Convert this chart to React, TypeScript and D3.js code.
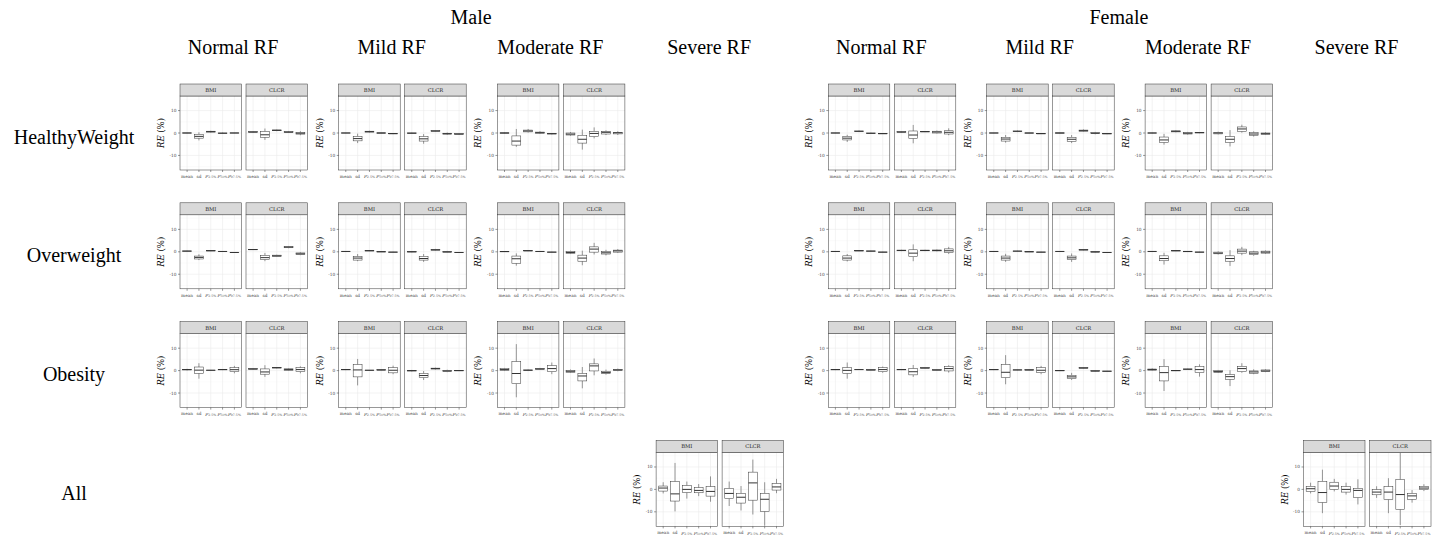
import React from "react";
import * as d3 from "d3";

// Each box: [lower whisker, Q1, median, Q3, upper whisker] of RE (%)
type Box = [number, number, number, number, number];

const sexes = ["Male", "Female"];
const rfLevels = ["Normal RF", "Mild RF", "Moderate RF", "Severe RF"];
const weightGroups = ["HealthyWeight", "Overweight", "Obesity", "All"];
const covariates = ["BMI", "CLCR"];
const statistics = ["mean", "sd", "P2.5", "P50", "P97.5"];
const yTicks = [-10, 0, 10];
const yMinor = [-15, -5, 5, 15];
const yDomain: [number, number] = [-16.5, 16.5];

// ---- Male ----
const mHwNormalBMI: Box[] = [[-0.1, 0, 0, 0.05, 0.15], [-3.3, -2.3, -1.5, -0.6, 0.3], [0.2, 0.4, 0.6, 0.8, 1.0], [-0.4, -0.2, -0.1, 0, 0.2], [-0.1, 0, 0, 0.05, 0.1]];
const mHwNormalCLCR: Box[] = [[0.1, 0.3, 0.45, 0.6, 0.8], [-3.1, -1.9, -0.8, 0.7, 2.0], [0.8, 1.0, 1.2, 1.35, 1.5], [0, 0.2, 0.4, 0.6, 0.9], [-1.0, -0.5, -0.1, 0.2, 0.8]];
const mHwMildBMI: Box[] = [[-0.1, 0, 0, 0.05, 0.1], [-4.5, -3.5, -2.5, -1.5, -0.3], [0.2, 0.4, 0.6, 0.8, 1.0], [-0.3, -0.15, 0, 0.1, 0.2], [-0.5, -0.35, -0.3, -0.2, -0.1]];
const mHwMildCLCR: Box[] = [[-0.4, -0.2, -0.1, 0.05, 0.2], [-4.8, -3.6, -2.6, -1.6, -0.5], [0.5, 0.7, 0.9, 1.1, 1.3], [-0.8, -0.5, -0.3, -0.1, 0.2], [-0.8, -0.6, -0.45, -0.3, -0.1]];
const mHwModerateBMI: Box[] = [[-0.3, -0.1, 0, 0.1, 0.3], [-6.2, -5.4, -3.6, -1.3, 1.8], [0.2, 0.5, 0.9, 1.3, 1.8], [-0.4, -0.1, 0.15, 0.4, 0.8], [-0.6, -0.45, -0.3, -0.15, 0]];
const mHwModerateCLCR: Box[] = [[-1.2, -0.9, -0.5, 0, 0.4], [-7.4, -4.5, -2.8, -1.0, 1.5], [-2.4, -1.6, -0.2, 0.75, 2.5], [-0.9, -0.45, 0.3, 0.75, 1.2], [-0.9, -0.4, 0.1, 0.3, 0.8]];

const mOwNormalBMI: Box[] = [[0, 0.15, 0.3, 0.4, 0.5], [-3.7, -3.2, -2.5, -1.9, -1.1], [0.3, 0.4, 0.45, 0.5, 0.6], [0, 0.1, 0.15, 0.2, 0.3], [-0.5, -0.4, -0.3, -0.2, -0.1]];
const mOwNormalCLCR: Box[] = [[0.8, 0.9, 1.0, 1.1, 1.2], [-4.2, -3.4, -2.6, -1.6, -0.5], [-2.1, -2.0, -1.8, -1.5, -1.3], [1.6, 1.8, 2.1, 2.4, 2.6], [-1.5, -1.3, -0.9, -0.5, -0.2]];
const mOwMildBMI: Box[] = [[-0.1, 0.05, 0.15, 0.25, 0.35], [-4.2, -3.7, -2.8, -2.1, -1.0], [0.3, 0.4, 0.45, 0.5, 0.6], [-0.1, -0.05, 0, 0.05, 0.1], [-0.3, -0.2, -0.15, -0.1, 0]];
const mOwMildCLCR: Box[] = [[-0.2, -0.1, 0, 0.05, 0.2], [-4.5, -3.7, -3.0, -2.1, -1.0], [0.5, 0.7, 0.9, 1.1, 1.3], [-0.5, -0.3, 0, 0.2, 0.4], [-0.5, -0.4, -0.3, -0.2, -0.1]];
const mOwModerateBMI: Box[] = [[-0.1, 0, 0.1, 0.2, 0.3], [-6.2, -5.1, -3.1, -1.9, -0.7], [0.3, 0.4, 0.45, 0.5, 0.6], [0, 0.1, 0.15, 0.2, 0.3], [-0.3, -0.2, -0.15, -0.1, 0]];
const mOwModerateCLCR: Box[] = [[-1.0, -0.7, -0.3, 0.2, 0.5], [-6.0, -4.2, -2.8, -1.5, 0.5], [-1.2, -0.15, 1.2, 2.2, 4.0], [-1.6, -1.0, -0.45, 0.15, 0.9], [-0.5, -0.15, 0.4, 0.75, 1.2]];

const mObNormalBMI: Box[] = [[0.1, 0.3, 0.45, 0.6, 0.8], [-3.6, -1.2, 0.2, 1.6, 3.3], [0, 0.1, 0.15, 0.2, 0.3], [0.2, 0.35, 0.45, 0.6, 0.7], [-1.2, -0.45, 0.4, 1.3, 2.1]];
const mObNormalCLCR: Box[] = [[0.4, 0.6, 0.75, 0.9, 1.1], [-2.8, -1.6, -0.6, 0.75, 2.4], [1.0, 1.15, 1.3, 1.45, 1.6], [-0.1, 0.1, 0.45, 0.8, 1.0], [-1.2, -0.45, 0.45, 1.3, 1.9]];
const mObMildBMI: Box[] = [[0.2, 0.35, 0.45, 0.6, 0.7], [-6.6, -2.8, 0.3, 2.7, 5.2], [0.05, 0.1, 0.15, 0.2, 0.25], [0.1, 0.2, 0.3, 0.4, 0.5], [-1.6, -1.0, 0.15, 1.3, 2.2]];
const mObMildCLCR: Box[] = [[-0.4, -0.2, 0, 0.1, 0.3], [-4.2, -3.1, -2.2, -1.3, -0.2], [0.5, 0.7, 0.9, 1.1, 1.3], [-0.7, -0.45, -0.15, 0.15, 0.4], [-0.2, -0.1, 0, 0.05, 0.15]];
const mObModerateBMI: Box[] = [[-0.2, 0.1, 0.45, 0.9, 1.2], [-11.9, -5.8, -1.3, 4.0, 11.8], [-0.2, 0, 0.15, 0.3, 0.5], [0.3, 0.5, 0.75, 0.95, 1.2], [-1.6, -0.45, 0.9, 2.2, 3.6]];
const mObModerateCLCR: Box[] = [[-1.0, -0.75, -0.3, 0.15, 0.5], [-7.9, -4.6, -2.4, -1.3, 1.6], [-2.1, -0.15, 2.1, 3.0, 5.4], [-1.8, -1.3, -0.9, -0.3, 0.45], [-0.3, 0, 0.3, 0.6, 0.9]];

const mAllSevereBMI: Box[] = [[-1.8, -0.75, 0.6, 1.5, 3.2], [-9.8, -5.2, -2.0, 3.5, 11.8], [-4.1, -1.4, 0, 1.7, 3.5], [-3.0, -1.5, -0.45, 0.75, 2.4], [-5.5, -3.0, -0.9, 1.2, 5.8]];
const mAllSevereCLCR: Box[] = [[-7.4, -4.1, -1.8, 0.45, 3.5], [-9.4, -6.1, -3.5, -1.8, 1.5], [-11.2, -4.8, 2.9, 7.7, 13.3], [-16.2, -9.8, -4.4, -1.8, 3.2], [-1.7, -0.3, 1.1, 2.6, 4.7]];

// ---- Female ----
const fHwNormalBMI: Box[] = [[-0.1, 0, 0, 0.05, 0.1], [-4.0, -3.1, -2.3, -1.5, -0.8], [0.4, 0.6, 0.75, 0.9, 1.1], [-0.4, -0.25, -0.15, 0, 0.15], [-0.45, -0.35, -0.3, -0.2, -0.1]];
const fHwNormalCLCR: Box[] = [[0.1, 0.3, 0.45, 0.6, 0.8], [-4.6, -2.4, -0.9, 0.9, 3.6], [0.4, 0.5, 0.6, 0.7, 0.8], [-0.2, 0, 0.45, 0.8, 1.1], [-1.0, -0.45, 0.3, 1.0, 2.1]];
const fHwMildBMI: Box[] = [[-0.1, 0, 0, 0.05, 0.1], [-4.3, -3.6, -2.7, -1.9, -0.9], [0.4, 0.6, 0.75, 0.9, 1.1], [-0.2, -0.1, 0, 0.05, 0.15], [-0.45, -0.35, -0.3, -0.2, -0.1]];
const fHwMildCLCR: Box[] = [[-0.3, -0.1, 0, 0.1, 0.2], [-4.5, -3.7, -2.8, -1.9, -0.9], [0.6, 0.8, 1.05, 1.3, 1.6], [-0.6, -0.3, -0.1, 0.15, 0.5], [-0.5, -0.4, -0.3, -0.2, -0.1]];
const fHwModerateBMI: Box[] = [[-0.2, -0.05, 0, 0.05, 0.2], [-5.2, -4.2, -3.1, -1.8, -0.4], [0.3, 0.5, 0.75, 0.95, 1.2], [-0.7, -0.45, -0.1, 0.2, 0.5], [-0.1, 0.05, 0.15, 0.25, 0.35]];
const fHwModerateCLCR: Box[] = [[-0.6, -0.4, 0, 0.3, 0.6], [-6.0, -4.2, -2.8, -1.6, 1.3], [0.15, 0.75, 1.8, 2.7, 3.7], [-1.6, -1.0, -0.45, 0.15, 0.75], [-0.9, -0.6, -0.3, 0, 0.3]];

const fOwNormalBMI: Box[] = [[-0.1, 0.05, 0.15, 0.25, 0.35], [-4.3, -3.7, -2.8, -1.8, -1.0], [0.3, 0.4, 0.45, 0.5, 0.6], [0.1, 0.2, 0.3, 0.4, 0.5], [-0.3, -0.2, -0.15, -0.1, 0]];
const fOwNormalCLCR: Box[] = [[0.3, 0.45, 0.6, 0.75, 0.9], [-4.2, -2.2, -0.6, 0.9, 3.3], [0.3, 0.45, 0.6, 0.75, 0.9], [0.2, 0.4, 0.6, 0.8, 1.0], [-1.0, -0.3, 0.45, 1.3, 2.2]];
const fOwMildBMI: Box[] = [[-0.1, 0.05, 0.15, 0.25, 0.35], [-4.5, -3.7, -2.8, -1.9, -0.9], [0.15, 0.25, 0.3, 0.35, 0.45], [-0.1, -0.05, 0, 0.05, 0.1], [-0.3, -0.2, -0.15, -0.1, 0]];
const fOwMildCLCR: Box[] = [[-0.1, 0.05, 0.15, 0.25, 0.35], [-4.5, -3.4, -2.7, -1.9, -0.75], [0.6, 0.75, 0.9, 1.05, 1.2], [-0.4, -0.2, 0, 0.15, 0.3], [-0.5, -0.4, -0.3, -0.2, -0.1]];
const fOwModerateBMI: Box[] = [[-0.1, 0.05, 0.15, 0.25, 0.35], [-5.7, -4.0, -3.0, -1.8, -0.45], [0.3, 0.4, 0.45, 0.5, 0.6], [-0.1, 0, 0.15, 0.25, 0.35], [-0.3, -0.2, -0.15, -0.1, 0]];
const fOwModerateCLCR: Box[] = [[-1.2, -0.9, -0.6, -0.15, 0.2], [-6.3, -4.2, -3.0, -1.8, 0.75], [-1.5, -0.6, 0.3, 1.2, 2.2], [-1.8, -1.3, -0.6, 0, 0.45], [-0.9, -0.6, -0.15, 0.3, 0.6]];

const fObNormalBMI: Box[] = [[0.2, 0.35, 0.45, 0.55, 0.7], [-3.6, -1.2, 0.1, 1.3, 3.6], [0.3, 0.4, 0.45, 0.5, 0.6], [0.1, 0.2, 0.3, 0.4, 0.5], [-1.0, -0.45, 0.45, 1.3, 1.8]];
const fObNormalCLCR: Box[] = [[0.2, 0.35, 0.45, 0.55, 0.7], [-2.8, -1.9, -0.5, 0.9, 2.5], [0.9, 1.05, 1.2, 1.35, 1.5], [0, 0.15, 0.3, 0.45, 0.6], [-0.9, -0.15, 0.9, 1.8, 2.4]];
const fObMildBMI: Box[] = [[0.2, 0.35, 0.45, 0.55, 0.7], [-6.1, -3.1, -0.75, 2.7, 6.9], [0.15, 0.25, 0.3, 0.35, 0.45], [0.1, 0.2, 0.3, 0.4, 0.5], [-1.6, -0.9, 0.15, 1.3, 2.1]];
const fObMildCLCR: Box[] = [[-0.2, -0.1, 0, 0.05, 0.15], [-4.2, -3.6, -2.8, -2.1, -1.0], [0.9, 1.05, 1.2, 1.35, 1.5], [-0.5, -0.3, -0.15, 0, 0.2], [-0.5, -0.4, -0.3, -0.2, -0.1]];
const fObModerateBMI: Box[] = [[0, 0.2, 0.45, 0.7, 1.0], [-9.1, -4.6, -0.9, 1.9, 5.1], [-0.2, -0.1, 0, 0.1, 0.2], [0.3, 0.45, 0.6, 0.75, 0.9], [-2.7, -0.9, 0.45, 1.8, 2.8]];
const fObModerateCLCR: Box[] = [[-1.0, -0.75, -0.45, 0, 0.3], [-6.9, -3.9, -2.7, -1.8, 0.15], [-1.0, -0.45, 0.9, 1.9, 3.3], [-1.6, -1.2, -0.6, -0.15, 0.6], [-0.7, -0.45, -0.15, 0.3, 0.6]];

const fAllSevereBMI: Box[] = [[-1.8, -0.9, 0.3, 1.4, 3.0], [-10.6, -5.8, -1.4, 3.6, 8.8], [-0.9, 0, 1.5, 3.2, 4.7], [-2.3, -1.2, 0, 1.2, 3.0], [-6.7, -3.6, -0.45, 0.45, 4.5]];
const fAllSevereCLCR: Box[] = [[-3.8, -2.4, -1.2, -0.15, 1.4], [-10.6, -4.5, -1.2, 1.2, 5.0], [-15.9, -8.9, -2.3, 4.4, 16.3], [-5.9, -4.4, -2.9, -1.8, -0.3], [-0.75, -0.15, 0.6, 1.4, 2.3]];

type Panel = { sex: string; rf: string; group: string; BMI: Box[]; CLCR: Box[] };

const panels: Panel[] = [
  { sex: "Male", rf: "Normal RF", group: "HealthyWeight", BMI: mHwNormalBMI, CLCR: mHwNormalCLCR },
  { sex: "Male", rf: "Mild RF", group: "HealthyWeight", BMI: mHwMildBMI, CLCR: mHwMildCLCR },
  { sex: "Male", rf: "Moderate RF", group: "HealthyWeight", BMI: mHwModerateBMI, CLCR: mHwModerateCLCR },
  { sex: "Male", rf: "Normal RF", group: "Overweight", BMI: mOwNormalBMI, CLCR: mOwNormalCLCR },
  { sex: "Male", rf: "Mild RF", group: "Overweight", BMI: mOwMildBMI, CLCR: mOwMildCLCR },
  { sex: "Male", rf: "Moderate RF", group: "Overweight", BMI: mOwModerateBMI, CLCR: mOwModerateCLCR },
  { sex: "Male", rf: "Normal RF", group: "Obesity", BMI: mObNormalBMI, CLCR: mObNormalCLCR },
  { sex: "Male", rf: "Mild RF", group: "Obesity", BMI: mObMildBMI, CLCR: mObMildCLCR },
  { sex: "Male", rf: "Moderate RF", group: "Obesity", BMI: mObModerateBMI, CLCR: mObModerateCLCR },
  { sex: "Male", rf: "Severe RF", group: "All", BMI: mAllSevereBMI, CLCR: mAllSevereCLCR },
  { sex: "Female", rf: "Normal RF", group: "HealthyWeight", BMI: fHwNormalBMI, CLCR: fHwNormalCLCR },
  { sex: "Female", rf: "Mild RF", group: "HealthyWeight", BMI: fHwMildBMI, CLCR: fHwMildCLCR },
  { sex: "Female", rf: "Moderate RF", group: "HealthyWeight", BMI: fHwModerateBMI, CLCR: fHwModerateCLCR },
  { sex: "Female", rf: "Normal RF", group: "Overweight", BMI: fOwNormalBMI, CLCR: fOwNormalCLCR },
  { sex: "Female", rf: "Mild RF", group: "Overweight", BMI: fOwMildBMI, CLCR: fOwMildCLCR },
  { sex: "Female", rf: "Moderate RF", group: "Overweight", BMI: fOwModerateBMI, CLCR: fOwModerateCLCR },
  { sex: "Female", rf: "Normal RF", group: "Obesity", BMI: fObNormalBMI, CLCR: fObNormalCLCR },
  { sex: "Female", rf: "Mild RF", group: "Obesity", BMI: fObMildBMI, CLCR: fObMildCLCR },
  { sex: "Female", rf: "Moderate RF", group: "Obesity", BMI: fObModerateBMI, CLCR: fObModerateCLCR },
  { sex: "Female", rf: "Severe RF", group: "All", BMI: fAllSevereBMI, CLCR: fAllSevereCLCR },
];

// Layout
const W = 1441;
const H = 537;
const SEX_LEFT = [180, 828.3];
const COL_STEP = [158.7, 158.4];
const ROW_ZERO0 = 133;
const ROW_STEP = 118.8;
const FACET_W = 61.5;
const FACET_GAP = 4.5;
const HALF_H = 37;
const STRIP_H = 12;
const SERIF = "'Liberation Serif', 'Times New Roman', serif";
const TINY = "'DejaVu Serif', 'Liberation Serif', serif";
const INK = "#333333";

function StatLabel({ s }: { s: string }) {
  if (s.startsWith("P")) {
    return (
      <>
        <tspan fontStyle="italic">P</tspan>
        <tspan fontSize={3.2} dy={1}>{s.slice(1) + "%"}</tspan>
      </>
    );
  }
  return <>{s}</>;
}

function Facet({ x0, zero, name, data }: { x0: number; zero: number; name: string; data: Box[] }) {
  const x = d3.scalePoint<string>().domain(statistics).range([x0, x0 + FACET_W]).padding(0.6);
  const y = d3.scaleLinear().domain(yDomain).range([zero + HALF_H, zero - HALF_H]);
  const top = zero - HALF_H;
  const bottom = zero + HALF_H;
  const bw = x.step() * 0.75;
  return (
    <g>
      <rect x={x0} y={top} width={FACET_W} height={bottom - top} fill="#ffffff" />
      {yMinor.map((v) => (
        <line key={"mn" + v} x1={x0} x2={x0 + FACET_W} y1={y(v)} y2={y(v)} stroke="#f2f2f2" strokeWidth={0.35} />
      ))}
      {yTicks.map((v) => (
        <line key={"mj" + v} x1={x0} x2={x0 + FACET_W} y1={y(v)} y2={y(v)} stroke="#ebebeb" strokeWidth={0.6} />
      ))}
      {statistics.map((s) => (
        <line key={"vg" + s} x1={x(s)!} x2={x(s)!} y1={top} y2={bottom} stroke="#ebebeb" strokeWidth={0.6} />
      ))}
      {data.map((b, i) => {
        const cx = x(statistics[i])!;
        const [lo, q1, md, q3, hi] = b;
        return (
          <g key={i} stroke={INK} strokeWidth={0.5}>
            <line x1={cx} x2={cx} y1={y(hi)} y2={y(q3)} />
            <line x1={cx} x2={cx} y1={y(q1)} y2={y(lo)} />
            <rect x={cx - bw / 2} y={y(q3)} width={bw} height={Math.max(0.2, y(q1) - y(q3))} fill="#ffffff" />
            <line x1={cx - bw / 2} x2={cx + bw / 2} y1={y(md)} y2={y(md)} strokeWidth={1} />
          </g>
        );
      })}
      <rect x={x0} y={top} width={FACET_W} height={bottom - top} fill="none" stroke={INK} strokeWidth={0.5} />
      {/* strip */}
      <rect x={x0} y={top - STRIP_H} width={FACET_W} height={STRIP_H} fill="#d9d9d9" stroke={INK} strokeWidth={0.5} />
      <text x={x0 + FACET_W / 2} y={top - STRIP_H / 2} textAnchor="middle" dominantBaseline="central" fontFamily={TINY} fontSize={5.2} fill="#1a1a1a">
        {name}
      </text>
      {/* x axis */}
      {statistics.map((s) => (
        <g key={"xt" + s}>
          <line x1={x(s)!} x2={x(s)!} y1={bottom} y2={bottom + 2} stroke={INK} strokeWidth={0.5} />
          <text x={x(s)!} y={bottom + 6.3} textAnchor="middle" dominantBaseline="central" fontFamily={TINY} fontSize={4.3} fill="#4d4d4d">
            <StatLabel s={s} />
          </text>
        </g>
      ))}
    </g>
  );
}

function PanelView({ p }: { p: Panel }) {
  const si = sexes.indexOf(p.sex);
  const ci = rfLevels.indexOf(p.rf);
  const ri = weightGroups.indexOf(p.group);
  const x0 = SEX_LEFT[si] + ci * COL_STEP[si];
  const zero = ROW_ZERO0 + ri * ROW_STEP;
  const y = d3.scaleLinear().domain(yDomain).range([zero + HALF_H, zero - HALF_H]);
  return (
    <g>
      {covariates.map((c, k) => (
        <Facet key={c} x0={x0 + k * (FACET_W + FACET_GAP)} zero={zero} name={c} data={k === 0 ? p.BMI : p.CLCR} />
      ))}
      {yTicks.map((v) => (
        <g key={"yt" + v}>
          <line x1={x0 - 2} x2={x0} y1={y(v)} y2={y(v)} stroke={INK} strokeWidth={0.5} />
          <text x={x0 - 3.5} y={y(v)} textAnchor="end" dominantBaseline="central" fontFamily={TINY} fontSize={4.3} fill="#4d4d4d">
            {v}
          </text>
        </g>
      ))}
      <text
        transform={`translate(${x0 - 19},${zero}) rotate(-90)`}
        textAnchor="middle"
        dominantBaseline="central"
        fontFamily={TINY}
        fontSize={8.5}
        fill="#000"
      >
        <tspan fontStyle="italic">RE</tspan> (%)
      </text>
    </g>
  );
}

export default function App() {
  return (
    <svg
      width={W}
      height={H}
      viewBox={`0 0 ${W} ${H}`}
      style={{ position: "absolute", left: 0, top: 0, display: "block", background: "#ffffff" }}
    >
      <rect width={W} height={H} fill="#ffffff" />
      {sexes.map((s, si) => {
        const centers = rfLevels.map((_, ci) => SEX_LEFT[si] + ci * COL_STEP[si] + 53);
        return (
          <g key={s}>
            <text x={(centers[0] + centers[3]) / 2} y={17} textAnchor="middle" dominantBaseline="central" fontFamily={SERIF} fontSize={20} fill="#000">
              {s}
            </text>
            {rfLevels.map((rf, ci) => (
              <text key={rf} x={centers[ci]} y={47} textAnchor="middle" dominantBaseline="central" fontFamily={SERIF} fontSize={20} fill="#000">
                {rf}
              </text>
            ))}
          </g>
        );
      })}
      {weightGroups.map((g, ri) => (
        <text key={g} x={74} y={ROW_ZERO0 + ri * ROW_STEP + 3.5} textAnchor="middle" dominantBaseline="central" fontFamily={SERIF} fontSize={20} fill="#000">
          {g}
        </text>
      ))}
      {panels.map((p, i) => (
        <PanelView key={i} p={p} />
      ))}
    </svg>
  );
}
